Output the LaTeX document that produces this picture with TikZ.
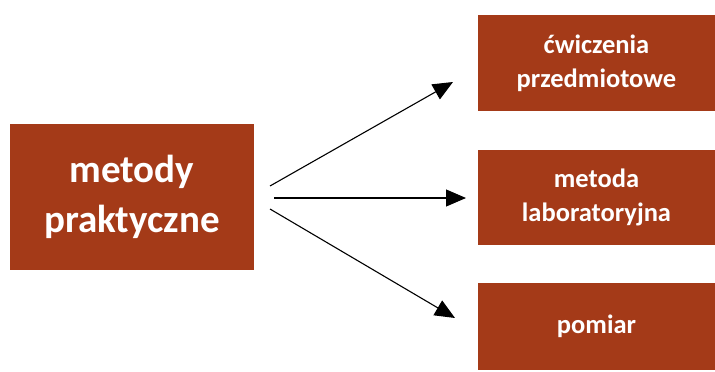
\documentclass[tikz,border=0pt]{standalone}
\usepackage{fontspec}
\setmainfont{Carlito}
\usetikzlibrary{arrows.meta}
\definecolor{boxred}{RGB}{164,58,24}
\begin{document}
\begin{tikzpicture}[x=1pt,y=-1pt,
  box/.style={fill=boxred,draw=none,text=white,font=\bfseries,align=center,inner sep=0pt},
  big/.style={box,minimum width=244pt,minimum height=146pt,font=\fontsize{39}{50}\selectfont\bfseries},
  small/.style={box,minimum width=237pt,minimum height=96pt,font=\fontsize{26.5}{34}\selectfont\bfseries},
  arr/.style={line width=1.1pt,-{Triangle[length=20pt,width=17pt]}}]
\fill[white] (0,0) rectangle (715,372);
\node[big] (m) at (132,196.5) {metody\\praktyczne};
\node[small] (a) at (596.5,63) {ćwiczenia\\przedmiotowe};
\node[small,minimum height=95pt] (b) at (596.5,197.5) {metoda\\laboratoryjna};
\node[small,minimum height=87pt] (c) at (596.5,326.5) {pomiar};
\coordinate (s1) at (270,186);
\coordinate (s2) at (274,198);
\coordinate (s3) at (270,209);
\coordinate (t1) at (453,82);
\coordinate (t2) at (466,198);
\coordinate (t3) at (455,318);
\draw[arr] (s1) -- (t1);
\draw[arr] (s2) -- (t2);
\draw[arr] (s3) -- (t3);
\end{tikzpicture}
\end{document}
